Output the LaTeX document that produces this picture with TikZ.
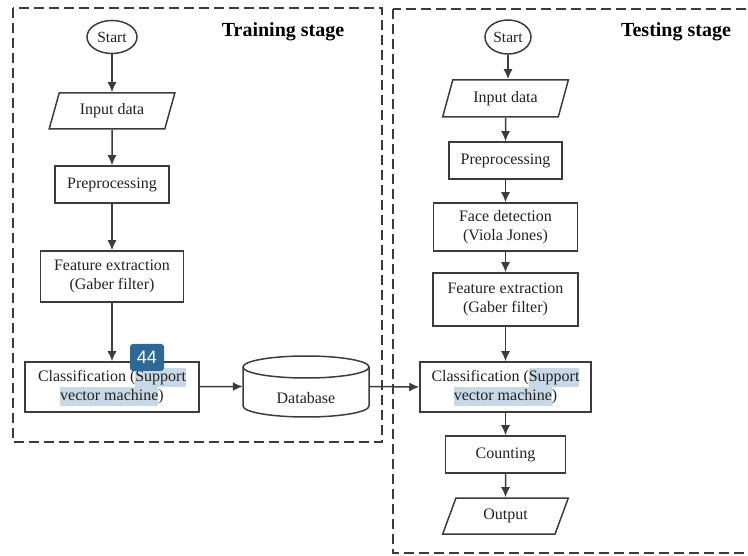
\documentclass[tikz,border=0pt]{standalone}
\usepackage{fontspec}
\setmainfont{Liberation Serif}
\newfontfamily\badgefont{Liberation Sans}
\usetikzlibrary{shapes.geometric,arrows.meta}
\definecolor{ln}{HTML}{3C3C3C}
\definecolor{tx}{HTML}{222222}
\definecolor{hl}{HTML}{C9D8E6}
\definecolor{badgeblue}{HTML}{2E6894}
\newcommand\hlt[1]{{\setlength{\fboxsep}{0pt}\colorbox{hl}{\strut #1}}}
\begin{document}
\begin{tikzpicture}[x=1pt,y=-1pt,
 box/.style={draw=ln, line width=1.5pt, rectangle, inner sep=0pt, align=center, text=tx, font=\fontsize{16}{19}\selectfont},
 io/.style={draw=ln, line width=1.5pt, trapezium, trapezium left angle=67, trapezium right angle=113, trapezium stretches=true, minimum width=126pt, minimum height=36pt, inner sep=0pt, text=tx, font=\fontsize{16}{19}\selectfont},
 term/.style={draw=ln, line width=1.5pt, ellipse, inner sep=0pt, text=tx, font=\fontsize{15.5}{18}\selectfont},
 arr/.style={draw=ln, line width=1.5pt, -{Latex[length=10pt,width=9pt]}},
 stagebox/.style={draw=ln, line width=1.5pt, dash pattern=on 10pt off 5pt},
 stagetitle/.style={font=\bfseries\fontsize{20}{24}\selectfont, text=black, inner sep=0pt}
]
\useasboundingbox (0,0) rectangle (748,556);
\clip (0,0) rectangle (748,556);

% stage frames
\draw[stagebox] (13,8) rectangle (382,442);
\draw[stagebox] (393,9) rectangle (753,553);
\node[stagetitle] (ttrain) at (283,32) {Training stage};
\node[stagetitle] (ttest) at (676,32) {Testing stage};

% training
\node[term, minimum width=50pt, minimum height=33pt] (s1) at (112,37) {Start};
\node[io] (in1) at (112,111) {Input data};
\node[box, minimum width=114pt, minimum height=37pt] (pp1) at (112,184.5) {Preprocessing};
\node[box, minimum width=143pt, minimum height=51pt] (fe1) at (112,276.5) {Feature extraction\\(Gaber filter)};
\node[box, minimum width=174pt, minimum height=50pt] (cl1) at (112,387) {Classification (\hlt{Support}\\\hlt{vector machine})};

% database
\node[minimum width=126pt, minimum height=61pt, inner sep=0pt] (db) at (306,386.5) {};
\draw[ln, line width=1.5pt, fill=white] (243,367) -- (243,406) arc[start angle=180, end angle=360, x radius=63pt, y radius=11pt] -- (369,367);
\draw[ln, line width=1.5pt] (306,367) ellipse[x radius=63pt, y radius=11pt];
\node[text=tx, font=\fontsize{16}{19}\selectfont, inner sep=0pt] (dbt) at (306,398) {Database};

% testing
\node[term, minimum width=46pt, minimum height=34pt] (s2) at (508,37) {Start};
\node[io, minimum height=37pt] (in2) at (505.5,98.5) {Input data};
\node[box, minimum width=113pt, minimum height=37pt] (pp2) at (505.5,160.5) {Preprocessing};
\node[box, minimum width=144pt, minimum height=48pt] (fd2) at (505.5,227) {Face detection\\(Viola Jones)};
\node[box, minimum width=145pt, minimum height=53pt] (fe2) at (505.5,299.5) {Feature extraction\\(Gaber filter)};
\node[box, minimum width=171pt, minimum height=50pt] (cl2) at (505.5,387) {Classification (\hlt{Support}\\\hlt{vector machine})};
\node[box, minimum width=120pt, minimum height=37pt] (ct2) at (505.5,454.5) {Counting};
\node[io] (out2) at (505.5,516) {Output};

% arrows
\draw[arr] (s1) -- (in1);
\draw[arr] (in1) -- (pp1);
\draw[arr] (pp1) -- (fe1);
\draw[arr] (fe1) -- (cl1);
\draw[arr] (cl1) -- (db.west);
\draw[arr] (db.east) -- (cl2.west);
\draw[arr] (s2.south) -- (s2.south |- in2.north);
\draw[arr] (in2) -- (pp2);
\draw[arr] (pp2) -- (fd2);
\draw[arr] (fd2) -- (fe2);
\draw[arr] (fe2) -- (cl2);
\draw[arr] (cl2) -- (ct2);
\draw[arr] (ct2) -- (out2);

% badge
\node[fill=badgeblue, rounded corners=3pt, minimum width=34pt, minimum height=27pt, inner sep=0pt, text=white, font=\badgefont\fontsize{18}{20}\selectfont] (badge) at (147,357.5) {44};
\end{tikzpicture}
\end{document}
